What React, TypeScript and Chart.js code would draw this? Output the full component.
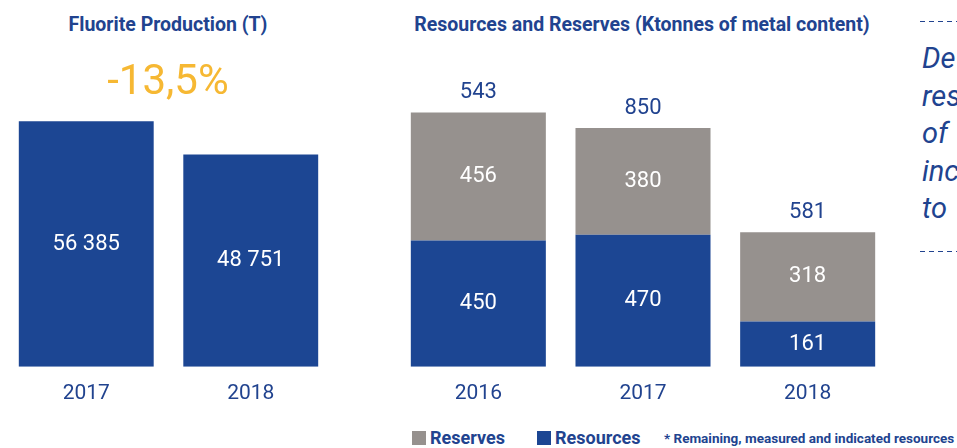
import React, { useEffect, useRef } from 'react';
import { Chart, registerables } from 'chart.js';

Chart.register(...registerables);

// ---- data ----
const fluoriteYears = ['2017', '2018'];
const fluoriteValues = [56385, 48751];
const changeLabel = '-13,5%';

const resYears = ['2016', '2017', '2018'];
const resourcesValues = [450, 470, 161];
const reservesValues = [456, 380, 318];
const totalLabels = [543, 850, 581];

const sideTextLines = ['De', 'res', 'of', 'inc', 'to'];

// ---- styles ----
const BLUE = '#1c4693';
const GREY = '#96918e';
const TEXT_BLUE = '#21438f';
const ORANGE = '#f6b833';
const FONT = 'Roboto, "Noto Sans", sans-serif';

function fmt(v: number): string {
  return String(v).replace(/\B(?=(\d{3})+(?!\d))/g, ' ');
}

function makeLabelPlugin(totals?: number[]) {
  return {
    id: 'barLabels',
    afterDatasetsDraw(chart: any) {
      const ctx = chart.ctx;
      ctx.save();
      ctx.font = `400 22px ${FONT}`;
      ctx.textAlign = 'center';
      ctx.textBaseline = 'middle';
      chart.data.datasets.forEach((ds: any, di: number) => {
        const meta = chart.getDatasetMeta(di);
        meta.data.forEach((el: any, i: number) => {
          const p = el.getProps(['x', 'y', 'base'], true);
          ctx.fillStyle = '#ffffff';
          ctx.fillText(fmt(ds.data[i]), p.x, (p.y + p.base) / 2);
        });
      });
      if (totals) {
        const meta = chart.getDatasetMeta(chart.data.datasets.length - 1);
        meta.data.forEach((el: any, i: number) => {
          const p = el.getProps(['x', 'y'], true);
          ctx.fillStyle = TEXT_BLUE;
          ctx.fillText(String(totals[i]), p.x, p.y - 20);
        });
      }
      ctx.restore();
    },
  };
}

function xScale() {
  return {
    grid: { display: false, drawTicks: false },
    border: { display: false },
    ticks: { color: TEXT_BLUE, font: { family: FONT, size: 21 }, padding: 14 },
  };
}

export default function App() {
  const leftRef = useRef<HTMLCanvasElement | null>(null);
  const rightRef = useRef<HTMLCanvasElement | null>(null);

  useEffect(() => {
    const left = new Chart(leftRef.current as HTMLCanvasElement, {
      type: 'bar',
      data: {
        labels: fluoriteYears,
        datasets: [
          {
            label: 'Fluorite Production (T)',
            data: fluoriteValues,
            backgroundColor: BLUE,
            borderWidth: 0,
            barPercentage: 1,
            categoryPercentage: 0.82,
          },
        ],
      },
      options: {
        animation: false,
        responsive: true,
        maintainAspectRatio: false,
        layout: { padding: { top: 62, left: 0, right: 0, bottom: 0 } },
        plugins: { legend: { display: false }, tooltip: { enabled: false } },
        scales: {
          x: xScale() as any,
          y: { display: false, min: 0, max: 70000 },
        },
      },
      plugins: [makeLabelPlugin()],
    });

    const right = new Chart(rightRef.current as HTMLCanvasElement, {
      type: 'bar',
      data: {
        labels: resYears,
        datasets: [
          {
            label: 'Resources',
            data: resourcesValues,
            backgroundColor: BLUE,
            borderWidth: 0,
            barPercentage: 1,
            categoryPercentage: 0.82,
          },
          {
            label: 'Reserves',
            data: reservesValues,
            backgroundColor: GREY,
            borderWidth: 0,
            barPercentage: 1,
            categoryPercentage: 0.82,
          },
        ],
      },
      options: {
        animation: false,
        responsive: true,
        maintainAspectRatio: false,
        layout: { padding: { top: 86, left: 0, right: 0, bottom: 0 } },
        plugins: { legend: { display: false }, tooltip: { enabled: false } },
        scales: {
          x: { ...(xScale() as any), stacked: true },
          y: { display: false, min: 0, max: 1000, stacked: true },
        },
      },
      plugins: [makeLabelPlugin(totalLabels)],
    });

    return () => {
      left.destroy();
      right.destroy();
    };
  }, []);

  const dash = 'repeating-linear-gradient(to right, ' + TEXT_BLUE + ' 0 5px, transparent 5px 9px)';

  return (
    <div
      style={{
        position: 'absolute',
        left: 0,
        top: 0,
        width: 957,
        height: 448,
        overflow: 'hidden',
        background: '#ffffff',
        fontFamily: FONT,
        color: TEXT_BLUE,
      }}
    >
      {/* left chart */}
      <div style={{ position: 'absolute', left: 0, top: 14, width: 336, textAlign: 'center', fontWeight: 700, fontSize: 19.5, lineHeight: '22px' }}>
        Fluorite Production (T)
      </div>
      <div style={{ position: 'absolute', left: 4, top: 0, width: 329, height: 420 }}>
        <canvas ref={leftRef} />
      </div>
      <div style={{ position: 'absolute', left: 0, top: 56, width: 336, textAlign: 'center', fontSize: 42, lineHeight: '48px', color: ORANGE }}>
        {changeLabel}
      </div>

      {/* right chart */}
      <div style={{ position: 'absolute', left: 392, top: 14, width: 500, textAlign: 'center', fontWeight: 700, fontSize: 19.5, lineHeight: '22px', whiteSpace: 'nowrap' }}>
        Resources and Reserves (Ktonnes of metal content)
      </div>
      <div style={{ position: 'absolute', left: 396, top: 0, width: 494, height: 420 }}>
        <canvas ref={rightRef} />
      </div>

      {/* legend */}
      <div style={{ position: 'absolute', left: 412, top: 431, width: 14, height: 14, background: GREY }} />
      <div style={{ position: 'absolute', left: 430, top: 426, fontWeight: 700, fontSize: 18, lineHeight: '24px', whiteSpace: 'nowrap' }}>
        Reserves
      </div>
      <div style={{ position: 'absolute', left: 537, top: 431, width: 14, height: 14, background: BLUE }} />
      <div style={{ position: 'absolute', left: 555, top: 426, fontWeight: 700, fontSize: 18, lineHeight: '24px', whiteSpace: 'nowrap' }}>
        Resources
      </div>
      <div style={{ position: 'absolute', left: 664, top: 430, fontWeight: 700, fontSize: 13.5, lineHeight: '16px', whiteSpace: 'nowrap' }}>
        * Remaining, measured and indicated resources
      </div>

      {/* side note */}
      <div style={{ position: 'absolute', left: 920, top: 21, width: 37, height: 1, background: dash }} />
      <div style={{ position: 'absolute', left: 922, top: 40, fontStyle: 'italic', fontSize: 29, lineHeight: '37.5px', whiteSpace: 'nowrap' }}>
        {sideTextLines.map((t) => (
          <div key={t}>{t}</div>
        ))}
      </div>
      <div style={{ position: 'absolute', left: 920, top: 251, width: 37, height: 1, background: dash }} />
    </div>
  );
}
